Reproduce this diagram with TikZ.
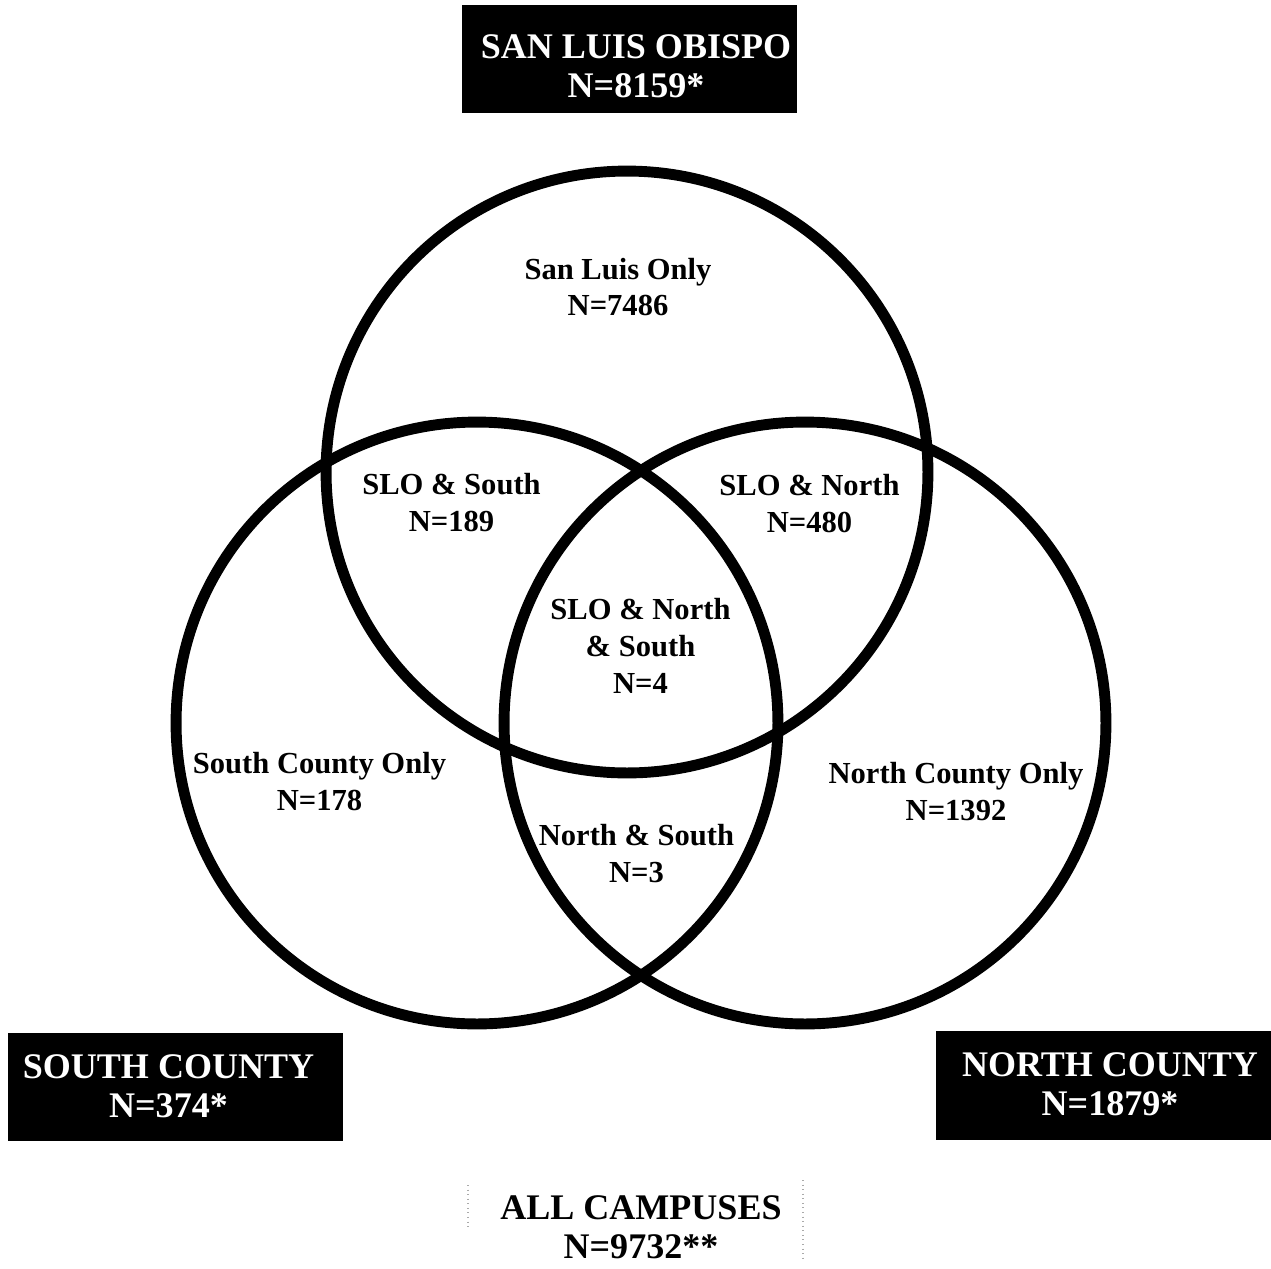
\documentclass[tikz,border=0pt]{standalone}
\usepackage{fontspec}
\setmainfont{Liberation Serif}
\usepackage{tikz}
\usetikzlibrary{positioning}
\usepackage{xcolor}
\definecolor{ink}{RGB}{0,0,0}
\definecolor{faint}{RGB}{170,170,170}
\tikzset{
  ring/.style={draw=ink,line width=6.2pt},
  campus/.style={fill=ink,inner sep=0pt,
    minimum width=6.72cm,minimum height=2.16cm},
  campustext/.style={text=white,inner sep=0pt,align=center,
    font=\bfseries\fontsize{20.5}{22.4}\selectfont},
  total/.style={inner sep=0pt,align=center,text=ink,
    font=\bfseries\fontsize{20.5}{22.2}\selectfont},
  region/.style={inner sep=0pt,align=center,text=ink,
    font=\bfseries\fontsize{17.4}{21}\selectfont},
  trace/.style={draw=faint,line width=0.6pt,dotted},
}
\begin{document}
\begin{tikzpicture}[x=0.02cm,y=-0.02cm]
  \useasboundingbox (0,0) rectangle (1271,1268);

  % the three campus circles
  \draw[ring] (627,472) circle[radius=6.02cm];
  \draw[ring] (477,723) circle[radius=6.02cm];
  \draw[ring] (805,723) circle[radius=6.02cm];

  % campus headings
  \node[campus] (slobox) at (629.5,59) {};
  \node[campus] (southbox) at (175.5,1086.5) {};
  \node[campus,minimum height=2.18cm] (northbox) at (1103.5,1085.5) {};
  \node[campustext] (slo) at (636,66) {SAN LUIS OBISPO\\N=8159*};
  \node[campustext] (south) at (168.5,1086) {SOUTH COUNTY\\N=374*};
  \node[campustext] (north) at (1110,1084.5) {NORTH COUNTY\\N=1879*};

  % regions
  \node[region] (sloonly) at (618,287) {San Luis Only\\N=7486};
  \node[region] (slosouth) at (451.5,502.5) {SLO \& South\\N=189};
  \node[region] (slonorth) at (809.5,503.5) {SLO \& North\\N=480};
  \node[region] (all3) at (640.5,646) {SLO \& North\\\& South\\N=4};
  \node[region] (southonly) at (319.5,781.5) {South County Only\\N=178};
  \node[region] (northonly) at (956,791.5) {North County Only\\N=1392};
  \node[region] (northsouth) at (636.5,853.5) {North \& South\\N=3};

  % all campuses
  \node[total] (allc) at (641,1227) {ALL CAMPUSES\\N=9732**};
  \coordinate (t1) at (468,1185);
  \coordinate (t2) at (468,1230);
  \coordinate (t3) at (803,1180);
  \coordinate (t4) at (803,1258);
  \draw[trace] (t1) -- (t2);
  \draw[trace] (t3) -- (t4);
\end{tikzpicture}
\end{document}
